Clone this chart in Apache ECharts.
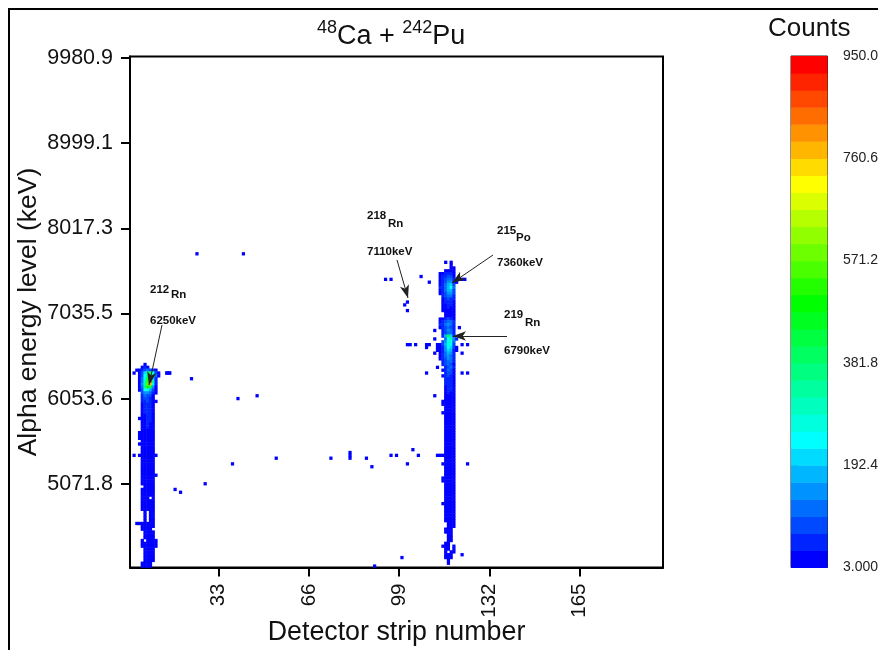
<!DOCTYPE html>
<html>
<head>
<meta charset="utf-8">
<style>html,body{margin:0;padding:0;background:#fff;overflow:hidden}#c{width:878px;height:650px}</style>
<script src="https://cdn.jsdelivr.net/npm/echarts@6/dist/echarts.min.js"></script>
</head>
<body>
<div id="c"></div>
<script>
const xTickLabels = ['33','66','99','132','165'];
const yTickLabels = ['5071.8','6053.6','7035.5','8017.3','8999.1','9980.9'];
const colorbarLabels = ['3.000','192.4','381.8','571.2','760.6','950.0'];
const colorbarTicks = [3, 192.4, 381.8, 571.2, 760.6, 950];
const bandColors = ['#0000ff','#0024ff','#0049ff','#006dff','#0092ff','#00b6ff','#00dbff','#00ffff',
  '#00ffdf','#00ffbf','#00ff9f','#00ff80','#00ff60','#00ff40','#00ff20','#00ff00',
  '#24ff00','#49ff00','#6dff00','#92ff00','#b6ff00','#dbff00','#ffff00',
  '#ffdb00','#ffb600','#ff9200','#ff6d00','#ff4900','#ff2400','#ff0000'];
const bandStep = 31.5667;

// rows: [energy bin, first strip, counts per strip...]
const leftColumnRows = [
[71,6,30],[70,5,20,35,25],
[69,3,20,30,45,70,110,90,40,20],
[68,2,20,0,30,80,210,330,400,280,90,30,0,0,25,20],
[67,4,30,90,250,350,440,320,110,25],
[66,4,30,110,280,420,620,220,50],
[65,4,25,120,310,520,900,340,60],
[64,4,20,130,340,570,780,270,40],
[63,4,20,120,370,490,430,130,30],
[62,4,15,90,230,270,190,80,25],
[61,5,70,140,160,100,40,20],
[60,5,50,100,95,70,30],[59,5,40,75,85,55,25],[58,5,35,60,75,50,25,15],
[57,5,30,50,60,45,20],[56,5,30,45,55,40,25],[55,5,25,40,50,45,20],[54,5,25,35,45,35,25],
[53,5,20,30,50,40,20],[52,4,15,25,30,45,40,25],[51,5,20,30,50,35,20],[50,5,20,30,35,30,25],
[49,5,20,25,35,30,20],[48,5,25,30,30,25,15],[47,4,15,20,25,30,30,20],[46,4,15,25,30,25,25,20],
[45,4,15,20,25,30,20,15],[44,5,20,30,30,25,20],[43,4,15,20,30,25,25,20],[42,5,20,25,30,20,15],
[41,5,25,30,25,25,20],[40,5,20,25,30,25,20],[39,2,15,0,15,20,25,30,25,20,15],[38,5,20,30,25,25,20],
[37,5,25,25,30,20,20],[36,5,20,30,25,25,15],[35,5,20,25,30,20,20],[34,5,25,25,25,25,20],
[33,5,20,30,25,20,15],[32,5,20,25,30,25,20,15],[31,5,25,30,25,20,20],[30,5,20,25,25,25,15],
[29,5,25,30,25,20,20],[28,6,25,30,25,20],[27,5,20,25,30,25,15],[26,5,25,25,25,20,20],
[25,5,20,30,20,25,20],[24,5,25,25,20,0,15],[23,5,20,25,25,20,20],[22,5,20,25,30,20,15],
[21,5,25,25,20,20,20],[20,5,25,20,25,20,20],[19,6,20,0,25,20],[18,6,25,0,20,20],
[17,6,20,0,25,25],[16,6,20,0,20,20],[15,3,15,20,25,25,20,25,20],[14,5,20,20,25,25,20],
[13,5,20,25,20,20],[12,6,20,25,25,20],[11,6,20,25,25,20],[10,6,25,20,20,15],
[9,5,15,0,25,25,20,20],[8,5,20,25,25,20,20,15],[7,5,15,25,20,25,20,15],[6,6,20,25,20,20],
[5,6,25,20,25,15],[4,6,20,25,20,20],[3,6,25,20,20,15],[2,6,20,25,20,15],[1,5,15,20,25,20],[0,5,15,20,25,15]
];

const rightColumnRows = [
[107,116,20,0,20],[106,118,20],[105,118,25,15],[104,116,20,30,30,20],
[103,114,20,25,35,45,40,25],[102,114,25,40,60,90,70,30],
[101,114,25,45,80,120,100,40,0,20,20,15],[100,114,30,50,90,150,140,60,15],
[99,114,30,60,110,190,200,90],[98,114,40,60,110,190,250,120],
[97,114,30,50,100,170,190,90],[96,114,25,50,90,130,140,70],
[95,115,40,70,110,100,50],[94,115,30,50,70,60,40],[93,115,25,35,45,40,25],[92,115,20,30,40,35,25],
[91,115,20,30,35,30,20],[90,115,15,25,30,30,20],[89,116,25,30,25,20],[88,116,25,30,30,25],
[87,114,20,30,50,70,60,30],[86,114,30,50,80,120,100,40],[85,114,35,60,100,140,110,45],
[84,114,30,50,90,120,90,40,0,20],[83,112,20,0,0,50,90,130,100,40],[82,115,50,90,120,100,40],
[81,115,60,180,420,220,60],[80,112,20,0,0,0,100,250,330,150,50],[79,115,70,140,280,260,100],
[78,102,20,15,0,15,0,0,0,20,20,0,0,30,30,70,180,280,240,90,0,0,20,0,20],
[77,109,20,0,0,0,25,30,60,150,230,200,70,20],[76,113,20,30,60,130,200,170,60,25],
[75,112,20,0,30,60,120,190,150,50,0,0,20],[74,114,25,50,100,160,120,40],[73,114,25,50,90,140,110,40],
[72,115,40,80,120,100,35],[71,115,40,70,110,90,30],[70,113,20,0,0,50,90,110,40],[69,115,30,60,100,80,30],
[68,109,20,0,0,0,0,0,0,50,80,70,30,0,0,20,0,20],[67,115,30,50,70,60,25],[66,116,50,60,50,25],
[65,116,40,55,50,25],[64,116,35,50,40,25],[63,116,30,45,35,20],[62,116,30,35,35,20],[61,116,25,35,30,20],
[60,112,20,0,0,0,25,30,30,20],[59,116,25,30,25,20],[58,115,15,25,30,25,20],[57,115,20,25,25,30,15],
[56,116,20,30,25,20],[55,116,25,25,25,20],[54,115,20,20,25,30,20],[53,116,25,25,20,15],
[52,116,20,30,25,20],[51,116,25,25,25,15],[50,116,20,25,30,20],[49,116,25,30,25,15],
[48,116,20,25,25,20],[47,116,25,30,20,20],[46,116,20,25,25,15],[45,116,25,25,30,20],
[44,116,20,30,25,20],[43,116,25,25,25,15],[42,116,20,25,30,20],[41,116,25,30,25,20],
[40,116,20,25,25,15],[39,113,15,15,15,25,30,25,20],[38,116,25,30,25,20],[37,116,20,25,30,20],
[36,115,15,25,30,25,20],[35,116,25,25,30,15],[34,116,20,30,25,20],[33,116,25,25,20,20],
[32,116,20,25,30,15],[31,115,20,25,25,25,15],[30,115,15,25,30,20,20],[29,116,25,25,25,20],
[28,116,20,30,25,20],[27,116,25,25,30,15],[26,116,20,25,25,20],[25,116,25,30,25,15],
[24,116,20,25,30,20],[23,116,25,25,25,20],[22,115,15,20,30,25,20],[21,116,25,25,30,15],
[20,116,20,25,25,20],[19,116,15,25,30,15],[18,116,20,25,20,20],[17,116,25,20,25,20],
[16,116,15,25,20,20],[15,117,20,25,20],[14,117,25,20,20],[13,116,20,25,15],[12,116,15,25,20],
[11,117,20,25],[10,117,20,20],[9,117,25,20],[8,116,20,25],[7,115,15,20,25,0,20],
[6,116,20,20,0,20],[5,116,20,0,20,15],[4,116,20,25,20],[3,116,20,25,15],[2,117,20],[1,117,15]
];

// isolated events: [strip, energy bin, counts]
const scatteredEvents = [
[14,68,25],[15,68,20],[23,66,15],[25,110,12],[42,110,12],[40,59,12],[47,60,14],[38,36,15],[17,27,12],
[19,26,12],[28,29,14],[54,38,14],[74,38,12],[81,38,14],[81,39,15],[81,40,12],[87,38,12],[89,35,12],
[96,39,12],[98,39,12],[102,36,12],[104,41,14],[106,39,12],[124,36,14],[100,3,12],[90,0,10],[122,4,12],
[94,101,12],[96,101,12],[107,102,14],[110,100,12],[102,93,14],[101,92,14],[102,90,12]
];

// annotation text and arrows
const annotationText = [
  ['212',150,290],['Rn',171,295],['6250keV',150,321],
  ['218',367,216],['Rn',388,224],['7110keV',367,252],
  ['215',497,231],['Po',516,238],['7360keV',497,263],
  ['219',504,315],['Rn',525,323],['6790keV',504,351]
];
const annotationArrows = [
  [162,325,149,385],[397,260,408,298],[493,255,452,283],[507,336,453,336]
];

const xCategories = [];
for (let s = 1; s <= 195; s++) xCategories.push(String(s));
const yCategories = [];
for (let b = 0; b < 180; b++) yCategories.push((b % 30 === 29) ? yTickLabels[(b - 29) / 30] : String(b));

const heat = [];
function addRows(rows) {
  rows.forEach(r => {
    const bin = r[0], first = r[1];
    r.slice(2).forEach((v, i) => { if (v > 0) heat.push([first + i - 1, bin, v]); });
  });
}
addRows(leftColumnRows);
addRows(rightColumnRows);
scatteredEvents.forEach(e => heat.push([e[0] - 1, e[1], e[2]]));

const pieces = bandColors.map((c, i) => ({ min: 3 + i * bandStep, max: 3 + (i + 1) * bandStep, color: c }));
const bands = bandColors.map((c, i) => [3 + i * bandStep, 3 + (i + 1) * bandStep, i]);

const font = '"Liberation Sans", Arial, sans-serif';
const graphics = [{
  type: 'rect', shape: { x: 9, y: 9, width: 1000, height: 800 },
  style: { fill: 'none', stroke: '#000', lineWidth: 2 }, silent: true, z: 0
}, {
  type: 'text', x: 768, y: 29, z: 20, silent: true,
  style: { text: 'Counts', font: '26px ' + font, fill: '#111', verticalAlign: 'middle' }
}];
annotationText.forEach(t => graphics.push({
  type: 'text', x: t[1], y: t[2], z: 20, silent: true,
  style: { text: t[0], font: 'bold 11.5px ' + font, fill: '#111', verticalAlign: 'middle' }
}));

const chart = echarts.init(document.getElementById('c'), null, { renderer: 'canvas' });
chart.setOption({
  animation: false,
  backgroundColor: '#fff',
  title: {
    text: '{s|48}{m|Ca + }{s|242}{m|Pu}',
    left: 312, top: 14,
    textStyle: {
      fontWeight: 'normal',
      rich: {
        s: { fontFamily: font, fontSize: 18, fontWeight: 'normal', color: '#111', verticalAlign: 'top' },
        m: { fontFamily: font, fontSize: 27, fontWeight: 'normal', color: '#111', lineHeight: 36 }
      }
    }
  },
  graphic: graphics,
  visualMap: { type: 'piecewise', show: false, seriesIndex: 0, dimension: 2, pieces: pieces },
  grid: [
    { left: 130, top: 56.5, width: 533, height: 511, outerBoundsMode: 'none', show: true, borderColor: '#000', borderWidth: 2, backgroundColor: '#fff', z: 3 },
    { left: 791, top: 56, width: 36.5, height: 511.5, outerBoundsMode: 'none', show: true, borderColor: '#222', borderWidth: 1, z: 3 }
  ],
  xAxis: [{
    gridIndex: 0, type: 'category', data: xCategories,
    name: 'Detector strip number', nameLocation: 'middle', nameGap: 52, nameMoveOverlap: false,
    nameTextStyle: { fontFamily: font, fontSize: 26.8, color: '#111' },
    axisLine: { show: true, lineStyle: { color: '#000', width: 2 } },
    axisTick: { show: true, alignWithLabel: true, length: 9, lineStyle: { color: '#000', width: 2 },
      interval: i => xTickLabels.includes(xCategories[i]) },
    axisLabel: { rotate: 90, margin: 16, verticalAlign: 'middle', fontFamily: font, fontSize: 20.5, color: '#111',
      interval: i => xTickLabels.includes(xCategories[i]) },
    splitLine: { show: false }, splitArea: { show: false }
  }, {
    gridIndex: 1, type: 'value', min: 0, max: 1, show: false
  }],
  yAxis: [{
    gridIndex: 0, type: 'category', data: yCategories,
    name: 'Alpha energy level (keV)', nameLocation: 'middle', nameGap: 88, nameMoveOverlap: false,
    nameTextStyle: { fontFamily: font, fontSize: 26.5, color: '#111' },
    axisLine: { show: true, lineStyle: { color: '#000', width: 2 } },
    axisTick: { show: true, alignWithLabel: true, length: 9, lineStyle: { color: '#000', width: 2 },
      interval: i => i % 30 === 29 },
    axisLabel: { margin: 17, fontFamily: font, fontSize: 21.5, color: '#111',
      interval: i => i % 30 === 29 },
    splitLine: { show: false }, splitArea: { show: false }
  }, {
    gridIndex: 1, type: 'value', min: 3, max: 950, position: 'right',
    axisLine: { show: false },
    axisTick: { show: true, length: 7, lineStyle: { color: '#333', width: 1 }, customValues: colorbarTicks },
    axisLabel: { margin: 15.5, fontFamily: font, fontSize: 14, color: '#222', customValues: colorbarTicks,
      formatter: v => colorbarLabels[colorbarTicks.indexOf(v)] },
    splitLine: { show: false }
  }],
  series: [{
    type: 'heatmap', xAxisIndex: 0, yAxisIndex: 0, data: heat, silent: true, z: 4, progressive: 0,
    markLine: {
      silent: true, animation: false, z: 15,
      symbol: ['none', 'arrow'], symbolSize: [7, 13],
      label: { show: false },
      lineStyle: { color: '#222', width: 1, type: 'solid' },
      itemStyle: { color: '#000' },
      data: annotationArrows.map(a => [{ x: a[0], y: a[1] }, { x: a[2], y: a[3] }])
    }
  }, {
    type: 'custom', xAxisIndex: 1, yAxisIndex: 1, data: bands, silent: true, z: 4,
    renderItem: (params, api) => {
      const lo = api.coord([0, api.value(0)]);
      const hi = api.coord([1, api.value(1)]);
      return { type: 'rect', shape: { x: lo[0], y: hi[1], width: hi[0] - lo[0], height: lo[1] - hi[1] + 0.6 },
        style: { fill: bandColors[api.value(2)] } };
    }
  }]
});
</script>
</body>
</html>
